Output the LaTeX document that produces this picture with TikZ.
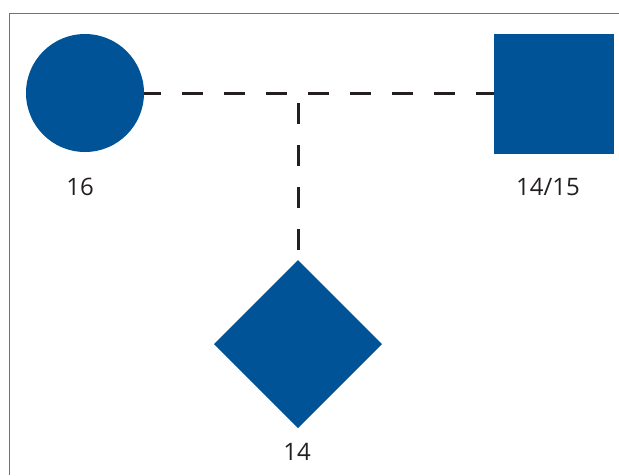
\documentclass[tikz,border=0pt]{standalone}
\usepackage{fontspec}
\setmainfont{Open Sans}
\usetikzlibrary{shapes.geometric}
\definecolor{pedblue}{RGB}{0,83,150}
\definecolor{inkdark}{RGB}{35,31,32}
\begin{document}
\begin{tikzpicture}[x=1pt,y=-1pt,
  shapefill/.style={fill=pedblue,draw=none,inner sep=0pt,outer sep=0pt},
  link/.style={draw=inkdark,line width=3pt},
  lbl/.style={text=inkdark,font=\fontsize{24}{28}\selectfont,inner sep=0pt},
  frameline/.style={draw=black!55,line width=1pt}]
\useasboundingbox (0,0) rectangle (619,475);
\draw[frameline] (9,475) -- (9,13) -- (619,13);
\node[shapefill,circle,minimum size=118pt] (c) at (85,93) {};
\node[shapefill,rectangle,minimum size=120pt] (s) at (554,94) {};
\node[shapefill,diamond,aspect=1,minimum width=168pt,minimum height=168pt] (d) at (298,344) {};
\coordinate (j) at (298,93);
\draw[link,dash pattern=on 21pt off 21pt,dash phase=4pt] (c.east) -- (s.west |- c.east);
\draw[link,dash pattern=on 21pt off 21pt,dash phase=32pt] (j) -- (d.north);
\node[lbl] (l1) at (80,187) {16};
\node[lbl] (l2) at (548,187) {14/15};
\node[lbl] (l3) at (297,452) {14};
\end{tikzpicture}
\end{document}
